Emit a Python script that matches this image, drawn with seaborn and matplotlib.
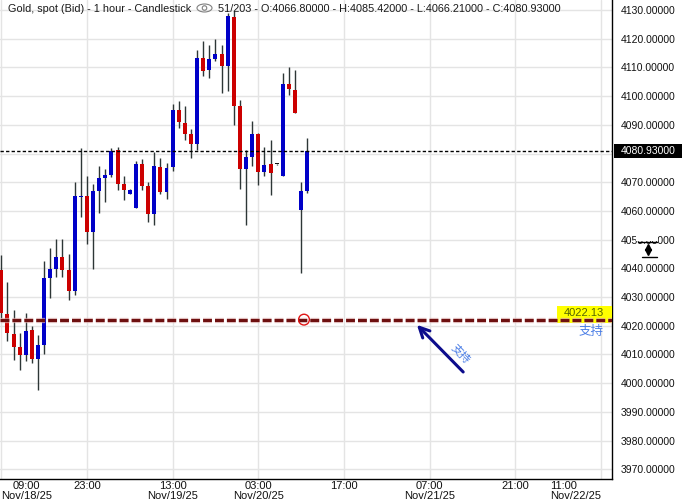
import numpy as np
import pandas as pd
import matplotlib
matplotlib.use("Agg")
import matplotlib.pyplot as plt
import matplotlib.dates as mdates
import matplotlib.patheffects as pe
from matplotlib import font_manager
from matplotlib.lines import Line2D
from matplotlib.patches import Rectangle, Ellipse
import seaborn as sns

# Gold spot, 1h candles
start_time = "2025-11-18 09:00"
opens = [4039.4, 4024.1, 4017.1, 4012.6, 4009.8, 4018.5, 4008.4, 4013.3, 4036.6, 4039.8,
         4043.9, 4039.4, 4032.2, 4064.9, 4065.2, 4052.8, 4066.9, 4071.6, 4072.6, 4081.2,
         4069.5, 4066.0, 4061.1, 4076.3, 4068.7, 4059.0, 4075.3, 4066.6, 4075.4, 4095.2,
         4090.5, 4086.8, 4083.4, 4113.3, 4109.2, 4112.9, 4114.7, 4110.6, 4127.5, 4096.7,
         4074.7, 4078.9, 4086.8, 4073.7, 4076.3, 4076.2, 4072.3, 4104.2, 4102.1, 4060.3,
         4066.80]
highs = [4044.6, 4035.1, 4025.5, 4017.5, 4024.4, 4019.9, 4016.8, 4042.6, 4047.2, 4050.2,
         4050.2, 4045.0, 4070.1, 4082.0, 4072.2, 4069.4, 4075.6, 4074.6, 4081.9, 4082.4,
         4072.3, 4067.5, 4077.5, 4078.1, 4070.1, 4080.6, 4078.4, 4076.7, 4097.3, 4098.3,
         4096.6, 4088.6, 4116.1, 4119.2, 4117.9, 4119.9, 4117.8, 4129.1, 4129.5, 4098.6,
         4081.2, 4091.3, 4087.0, 4082.4, 4084.7, 4076.4, 4107.9, 4110.1, 4109.1, 4070.1,
         4085.42]
lows = [4022.7, 4014.8, 4008.1, 4004.6, 4007.8, 4007.1, 3997.6, 4010.1, 4029.7, 4037.1,
        4037.1, 4029.0, 4030.7, 4058.0, 4048.6, 4039.9, 4059.4, 4063.2, 4071.9, 4067.3,
        4063.8, 4065.8, 4061.0, 4067.3, 4056.1, 4055.2, 4065.9, 4064.2, 4073.9, 4089.0,
        4084.8, 4078.3, 4081.2, 4107.1, 4106.4, 4112.3, 4101.0, 4101.9, 4089.9, 4067.7,
        4055.2, 4075.8, 4069.1, 4072.3, 4065.6, 4076.0, 4072.2, 4100.5, 4094.1, 4038.5,
        4066.21]
closes = [4024.5, 4017.3, 4012.7, 4009.8, 4018.2, 4008.4, 4013.3, 4036.6, 4039.8, 4043.9,
          4039.5, 4032.1, 4065.2, 4065.3, 4052.8, 4066.9, 4071.5, 4072.5, 4080.8, 4069.5,
          4067.3, 4067.3, 4076.3, 4068.8, 4059.0, 4075.6, 4066.6, 4075.0, 4095.2, 4091.1,
          4086.9, 4083.4, 4113.3, 4108.9, 4112.9, 4114.7, 4110.6, 4128.0, 4096.7, 4074.7,
          4078.8, 4086.8, 4073.7, 4076.0, 4073.3, 4076.2, 4104.2, 4102.5, 4094.2, 4066.9,
          4080.93]

tick_times = ["2025-11-18 09:00", "2025-11-18 23:00", "2025-11-19 13:00", "2025-11-20 03:00",
              "2025-11-20 17:00", "2025-11-21 07:00", "2025-11-21 21:00", "2025-11-22 11:00"]
tick_labels = ["09:00\nNov/18/25", "23:00", "13:00\nNov/19/25", "03:00\nNov/20/25",
               "17:00", "07:00\nNov/21/25", "21:00", "11:00\nNov/22/25"]
price_ticks = list(range(3970, 4131, 10))

support_level = 4022.13
support_text = "支持"
circle_time = "2025-11-20 10:28"
arrow_tip = ("2025-11-21 04:36", 4021.0)
arrow_tail = ("2025-11-21 12:48", 4003.2)
arrow_label_pos = ("2025-11-21 11:57", 4010.2)

df = pd.DataFrame({"time": pd.date_range(start_time, periods=len(opens), freq="h"),
                   "open": opens, "high": highs, "low": lows, "close": closes})

sns.set_style("white")
installed = {f.name for f in font_manager.fontManager.ttflist}
narrow = "Liberation Sans Narrow" if "Liberation Sans Narrow" in installed else "Liberation Sans"
plt.rcParams["font.family"] = ["Liberation Sans", "DejaVu Sans"]
cjk = ["Noto Sans CJK SC", "DejaVu Sans"]

W, H = 682, 503
def fx(px):
    return px / W
def fy(py):
    return 1 - py / H

fig = plt.figure(figsize=(W / 100, H / 100), dpi=100)
ax = fig.add_axes([0, fy(479), fx(612), 479 / H])

hour = 1 / 24
t = mdates.date2num(df["time"])
o, c = df["open"].values, df["close"].values
colors = np.where(c > o, "#0000c8", np.where(c < o, "#cc0000", "#111111"))

# velas
ax.vlines(t, df["low"], df["high"], color="#2d3636", lw=1.0, zorder=2)
ax.bar(t, np.maximum(np.abs(c - o), 0.35), bottom=np.minimum(o, c), width=0.65 * hour,
       color=colors, linewidth=0, zorder=3)

t0 = mdates.date2num(pd.Timestamp(start_time))
ax.set_xlim(t0 - 0.21 * hour, t0 + 99.8 * hour)
ax.set_ylim(3966.6, 4133.5)

last_price = closes[-1]
ax.set_xticks(mdates.date2num(pd.to_datetime(tick_times)))
ax.set_xticklabels(tick_labels, family=narrow, fontsize=8, color="#111111", linespacing=1.05)
ax.set_yticks(price_ticks)
# o rotulo 4080 fica escondido atras da caixa do preco atual
ax.set_yticklabels(["" if abs(v - last_price) < 5 else f"{v:.5f}" for v in price_ticks],
                   fontsize=7.5, color="#111111")
ax.yaxis.tick_right()
ax.tick_params(axis="y", length=0, pad=6.5)
ax.tick_params(axis="x", length=0, pad=1.5)
xl = ax.get_xticklabels()
xl[0].set_ha("left")
xl[0].set_multialignment("center")
xl[-1].set_ha("right")
xl[-1].set_multialignment("left")

ax.grid(True, color="#e4e4e4", lw=1.0)
ax.set_axisbelow(True)
for s in ["left", "top"]:
    ax.spines[s].set_visible(False)
for s in ["right", "bottom"]:
    ax.spines[s].set_color("black")
    ax.spines[s].set_linewidth(1.0)

# preco atual
ax.axhline(last_price, color="black", lw=1.0, ls=(0, (2.4, 1.6)), zorder=4)
fig.add_artist(Rectangle((fx(614), fy(158)), fx(68), 14 / H, transform=fig.transFigure,
                         fc="black", ec="none", zorder=2))
fig.text(fx(621), fy(151.5), f"{last_price:.5f}", color="white", fontsize=7.5,
         ha="left", va="center", zorder=3)

# suporte
ax.add_patch(Rectangle((557 / 612, (479 - 323) / 479), 55 / 612, 17 / 479,
                       transform=ax.transAxes, fc="#ffff00", ec="none", zorder=3.5))
ax.axhline(support_level, color="#6e1010", lw=2.2, ls=(0, (2.9, 1.0)), zorder=5,
           path_effects=[pe.Stroke(linewidth=3.8, foreground="#d8a8a8", alpha=0.7), pe.Normal()])
ax.text(0.987, support_level + 2.4, f"{support_level:.2f}", transform=ax.get_yaxis_transform(),
        ha="right", va="center", fontsize=8, color="#556600", zorder=6)
ax.text(0.965, support_level - 4.1, support_text, transform=ax.get_yaxis_transform(),
        ha="center", va="center", fontsize=9, color="#4a7de6", family=cjk, zorder=6)

sns.scatterplot(x=[mdates.date2num(pd.Timestamp(circle_time))], y=[support_level], ax=ax,
                marker="o", s=60, color="none", edgecolor="#e01515", linewidth=1.0, zorder=7)

ax.annotate("", xy=(mdates.date2num(pd.Timestamp(arrow_tip[0])), arrow_tip[1]),
            xytext=(mdates.date2num(pd.Timestamp(arrow_tail[0])), arrow_tail[1]),
            arrowprops=dict(arrowstyle="->", color="#0c0c8c", lw=2.2, mutation_scale=18),
            zorder=6)
ax.text(mdates.date2num(pd.Timestamp(arrow_label_pos[0])), arrow_label_pos[1], support_text,
        rotation=-46, ha="center", va="center", fontsize=8, color="#4a7de6", family=cjk,
        rotation_mode="anchor", zorder=6)

# titulo
fig.text(fx(8), fy(8.5), "Gold, spot (Bid) - 1 hour - Candlestick", fontsize=7.8,
         ha="left", va="center", color="#1a1a1a", zorder=5)
fig.add_artist(Ellipse((fx(204.5), fy(8)), 15 / W, 8 / H, transform=fig.transFigure,
                       fill=False, ec="#808080", lw=0.8))
fig.add_artist(Ellipse((fx(204.5), fy(8)), 4.5 / W, 4.5 / H, transform=fig.transFigure,
                       fill=False, ec="#808080", lw=0.8))
fig.text(fx(218), fy(8.5),
         f"51/203 - O:{opens[-1]:.5f} - H:{highs[-1]:.5f} - L:{lows[-1]:.5f} - C:{closes[-1]:.5f}",
         fontsize=7.8, ha="left", va="center", color="#1a1a1a", zorder=5)

# icone do eixo
fig.add_artist(Rectangle((fx(636), fy(241)), 22 / W, 5 / H, transform=fig.transFigure,
                         fc="white", ec="none", zorder=2))
fig.add_artist(Line2D([fx(638), fx(657)], [fy(241.5), fy(241.5)], transform=fig.transFigure,
                      color="black", lw=1.0, zorder=3))
fig.add_artist(Line2D([fx(642), fx(657)], [fy(256.5), fy(256.5)], transform=fig.transFigure,
                      color="black", lw=1.0, zorder=3))
fig.add_artist(Line2D([fx(648)], [fy(246.5)], transform=fig.transFigure, marker="^",
                      markersize=4.5, color="black", lw=0, zorder=3))
fig.add_artist(Line2D([fx(648)], [fy(251.5)], transform=fig.transFigure, marker="v",
                      markersize=4.5, color="black", lw=0, zorder=3))

plt.savefig("out.png", dpi=100)
